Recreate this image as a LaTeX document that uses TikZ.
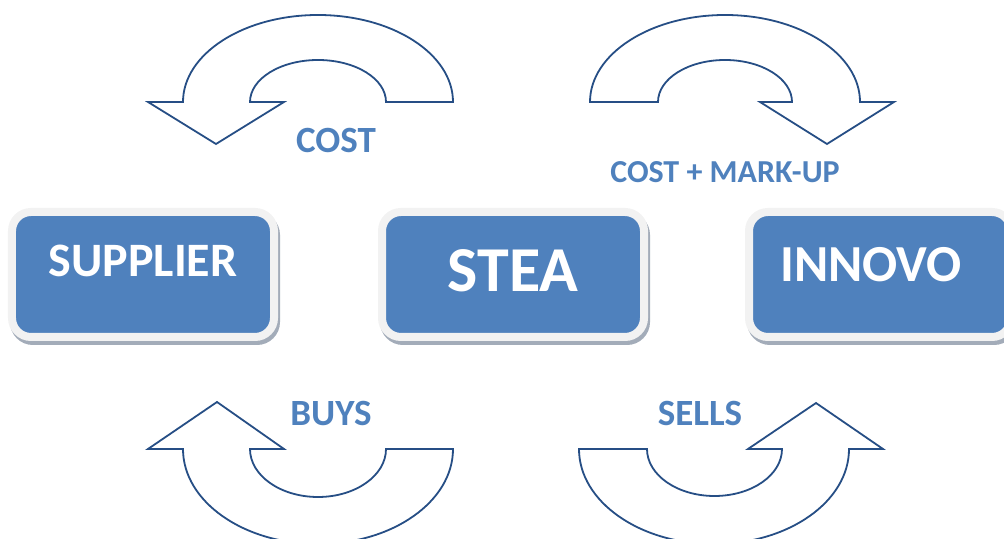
\documentclass[tikz,border=0pt]{standalone}
\usepackage{fontspec}
\setmainfont{Carlito}
\usetikzlibrary{positioning,calc}
\definecolor{boxblue}{HTML}{4F81BD}
\definecolor{textblue}{HTML}{4F81BD}
\definecolor{arrowblue}{HTML}{264E85}
\definecolor{framegrey}{HTML}{F2F2F2}
\definecolor{shadowgrey}{HTML}{A3ACB9}
\newcommand{\fsize}[1]{\fontsize{#1bp}{#1bp}\selectfont}

\begin{document}
\begin{tikzpicture}[x=1bp, y=1bp,
  partybox/.style={rectangle, rounded corners=19bp, fill=boxblue, draw=framegrey, line width=8bp,
    minimum width=262bp, minimum height=125bp,
    preaction={draw=shadowgrey, fill=shadowgrey, transform canvas={shift={(2bp,-4bp)}}}},
  boxtext/.style={text=white, inner sep=0pt},
  flowtext/.style={text=textblue, inner sep=0pt, font=\bfseries\fsize{37}},
  turn/.style={draw=arrowblue, line width=1.8bp, fill=white, line join=miter}]
\useasboundingbox (0,0) rectangle (1004,539);
\clip (0,0) rectangle (1004,539);
% the three parties
\node[partybox] (supplier) at (143,264.5) {};
\node[partybox] (stea) at (513,264.5) {};
\node[partybox] (innovo) at (880,264.5) {};
\node[boxtext, font=\bfseries\fsize{48}] (suppliertext) at ([yshift=13.5bp]supplier.center) {SUPPLIER};
\node[boxtext, font=\bfseries\fsize{64}] (steatext) at ([yshift=3.5bp]stea.center) {STEA};
\node[boxtext, font=\bfseries\fsize{52}] (innovotext) at ([shift={(-9bp,10bp)}]innovo.center) {INNOVO};
% turning arrows, top
\draw[turn] (453,437) arc[start angle=0, end angle=180, x radius=135bp, y radius=87bp]
  -- (148,437) -- (216,395) -- (284,437) -- (250,437)
  arc[start angle=180, end angle=0, x radius=68bp, y radius=42bp] -- cycle;
\draw[turn] (590,437) arc[start angle=180, end angle=0, x radius=135bp, y radius=87bp]
  -- (894,437) -- (827,395) -- (760,437) -- (792,437)
  arc[start angle=0, end angle=180, x radius=67bp, y radius=42bp] -- cycle;
% turning arrows, bottom
\draw[turn] (453,90) arc[start angle=0, end angle=-180, x radius=135bp, y radius=95bp]
  -- (148,90) -- (217,137) -- (284,90) -- (250,90)
  arc[start angle=180, end angle=360, x radius=68bp, y radius=48bp] -- cycle;
\draw[turn] (579,90) arc[start angle=180, end angle=360, x radius=135bp, y radius=95bp]
  -- (883,90) -- (816,136) -- (748,90) -- (782,90)
  arc[start angle=0, end angle=-180, x radius=67.5bp, y radius=47bp] -- cycle;
% labels
\node[flowtext] (cost) at (336,398) {COST};
\node[flowtext, font=\bfseries\fsize{32}] (markup) at (725,367) {COST + MARK-UP};
\node[flowtext] (buys) at (331,125) {BUYS};
\node[flowtext] (sells) at (700,125) {SELLS};
\end{tikzpicture}
\end{document}
